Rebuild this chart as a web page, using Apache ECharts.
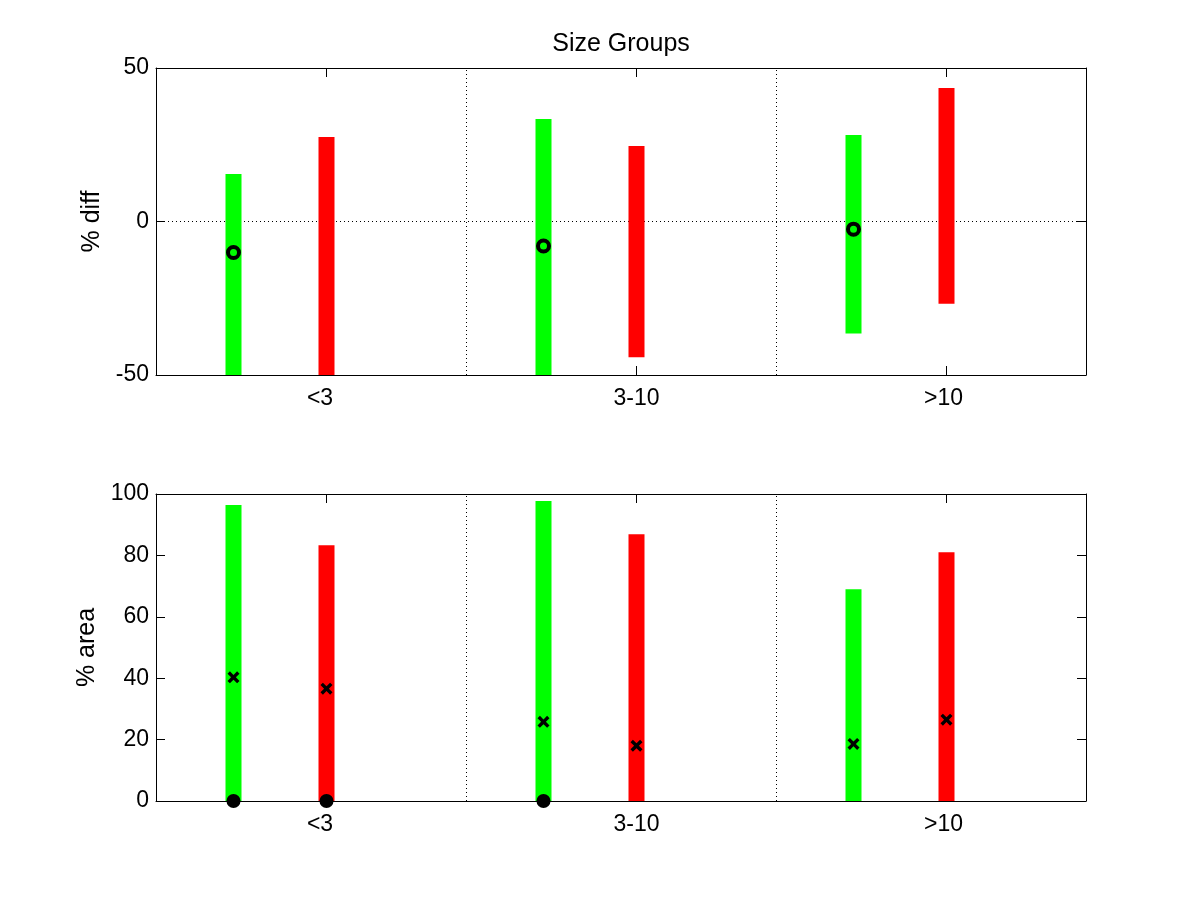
<!DOCTYPE html>
<html>
<head>
<meta charset="utf-8">
<script src="https://cdn.jsdelivr.net/npm/echarts@6/dist/echarts.min.js"></script>
<style>html,body{margin:0;padding:0;background:#fff;}#c{width:1200px;height:900px;}</style>
</head>
<body>
<div id="c"></div>
<script>
// ---- data ----
const categories = ['<3', '3-10', '>10'];
// top panel (% diff)
const diffGreenLow  = [-50, -50, -36.5];
const diffGreenHigh = [15.5, 33.4, 28.2];
const diffGreenMid  = [-10.1, -8.0, -2.5];
const diffRedLow    = [-50, -44.2, -26.8];
const diffRedHigh   = [27.5, 24.6, 43.5];
// bottom panel (% area)
const areaGreenLow  = [0, 0, 0];
const areaGreenHigh = [96.4, 97.7, 69.0];
const areaGreenMid  = [40.3, 25.8, 18.6];
const areaGreenDot  = [0, 0, null];
const areaRedLow    = [0, 0, 0];
const areaRedHigh   = [83.3, 86.9, 81.0];
const areaRedMid    = [36.6, 18.0, 26.5];
const areaRedDot    = [0, null, null];
const diffTicks = [-50, 0, 50];
const areaTicks = [0, 20, 40, 60, 80, 100];

// ---- layout helpers ----
const GREEN = '#00ff00', RED = '#ff0000';
const gOff = -0.25, rOff = 0.05, tickOff = 0.05;
const xPos = (i, off) => i + 1 + off;
const FONT = 'Liberation Sans, Arial, Helvetica, sans-serif';
const tickValues = categories.map((c, i) => xPos(i, tickOff));

function rangeData(lo, hi, off) {
  return lo.map((v, i) => [xPos(i, off), v, hi[i]]);
}
function pointData(vals, off) {
  return vals.map((v, i) => v == null ? null : [xPos(i, off), v]).filter(d => d);
}
function renderBar(params, api) {
  const x = api.value(0), lo = api.value(1), hi = api.value(2);
  const p1 = api.coord([x, hi]);
  const p2 = api.coord([x, lo]);
  const w = 16;
  return {
    type: 'rect',
    shape: { x: p1[0] - w / 2, y: p1[1], width: w, height: p2[1] - p1[1] },
    style: { fill: api.visual('color') }
  };
}
const xMark = 'path://M0,2 L2,0 L5,3 L8,0 L10,2 L7,5 L10,8 L8,10 L5,7 L2,10 L0,8 L3,5 Z';

const labelMap = {};
categories.forEach((c, i) => { labelMap[xPos(i, tickOff).toFixed(2)] = c; });

function xAxes(gridIndex) {
  const common = {
    type: 'value', gridIndex, min: 0.5, max: 3.5,
    axisLine: { show: true, onZero: false, lineStyle: { color: '#000', width: 1 } },
    splitLine: { show: false }
  };
  return [
    Object.assign({}, common, {
      position: 'bottom',
      axisTick: { show: true, inside: true, length: 9, customValues: tickValues, lineStyle: { color: '#000' } },
      axisLabel: {
        show: true, customValues: tickValues, margin: 12,
        color: '#000', fontSize: 23, fontFamily: FONT,
        formatter: v => {
          const t = labelMap[Number(v).toFixed(2)] || '';
          if (t === '<3') return '{l|' + t + '}';
          if (t === '>10') return '{m|' + t + '}';
          return t;
        },
        rich: {
          l: { fontSize: 23, fontFamily: FONT, color: '#000', padding: [0, 13, 0, 0] },
          m: { fontSize: 23, fontFamily: FONT, color: '#000', padding: [0, 6, 0, 0] }
        }
      }
    }),
    Object.assign({}, common, {
      position: 'top',
      axisTick: { show: true, inside: true, length: 9, customValues: tickValues, lineStyle: { color: '#000' } },
      axisLabel: { show: false }
    })
  ];
}
function yAxes(gridIndex, min, max, interval, name, nameGap, grid) {
  const common = {
    type: 'value', gridIndex, min, max, interval,
    axisLine: { show: true, onZero: false, lineStyle: { color: '#000', width: 1 } },
    axisTick: { show: true, inside: true, length: 9, lineStyle: { color: '#000' } }
  };
  return [
    Object.assign({}, common, {
      position: 'left',
      name, nameLocation: 'middle', nameGap,
      nameTextStyle: { color: '#000', fontSize: 25, fontFamily: FONT },
      axisLabel: { show: true, margin: 7, color: '#000', fontSize: 23, fontFamily: FONT },
      splitLine: { show: grid, lineStyle: { color: '#000', type: [1, 3], width: 1 } }
    }),
    Object.assign({}, common, {
      position: 'right',
      axisLabel: { show: false },
      splitLine: { show: false }
    })
  ];
}

const vLines = {
  silent: true, symbol: ['none', 'none'], label: { show: false },
  lineStyle: { color: '#000', type: [1, 3], width: 1 },
  data: [{ xAxis: 1.5 }, { xAxis: 2.5 }]
};

const option = {
  animation: false,
  backgroundColor: '#fff',
  title: {
    text: 'Size Groups', left: 616, top: 27, textAlign: 'center',
    textStyle: { color: '#000', fontSize: 25, fontWeight: 'normal', fontFamily: FONT }
  },
  grid: [
    { left: 156, top: 68, width: 930, height: 307 },
    { left: 156, top: 494, width: 930, height: 307 }
  ],
  xAxis: [...xAxes(0), ...xAxes(1)],
  yAxis: [
    ...yAxes(0, -50, 50, 50, '% diff', 48, true),
    ...yAxes(1, 0, 100, 20, '% area', 54, false)
  ],
  series: [
    // top panel
    { type: 'scatter', xAxisIndex: 0, yAxisIndex: 0, data: [], markLine: vLines },
    { type: 'custom', xAxisIndex: 0, yAxisIndex: 0, renderItem: renderBar, itemStyle: { color: GREEN },
      data: rangeData(diffGreenLow, diffGreenHigh, gOff), encode: { x: 0, y: [1, 2] }, z: 3 },
    { type: 'custom', xAxisIndex: 0, yAxisIndex: 0, renderItem: renderBar, itemStyle: { color: RED },
      data: rangeData(diffRedLow, diffRedHigh, rOff), encode: { x: 0, y: [1, 2] }, z: 3 },
    { type: 'scatter', xAxisIndex: 0, yAxisIndex: 0, symbol: 'circle', symbolSize: 11, clip: false, z: 5,
      itemStyle: { color: 'rgba(0,0,0,0)', borderColor: '#000', borderWidth: 4, opacity: 1 },
      data: pointData(diffGreenMid, gOff) },
    // bottom panel
    { type: 'scatter', xAxisIndex: 2, yAxisIndex: 2, data: [], markLine: vLines },
    { type: 'custom', xAxisIndex: 2, yAxisIndex: 2, renderItem: renderBar, itemStyle: { color: GREEN },
      data: rangeData(areaGreenLow, areaGreenHigh, gOff), encode: { x: 0, y: [1, 2] }, z: 3 },
    { type: 'custom', xAxisIndex: 2, yAxisIndex: 2, renderItem: renderBar, itemStyle: { color: RED },
      data: rangeData(areaRedLow, areaRedHigh, rOff), encode: { x: 0, y: [1, 2] }, z: 3 },
    { type: 'scatter', xAxisIndex: 2, yAxisIndex: 2, symbol: xMark, symbolSize: 12, clip: false, z: 5,
      itemStyle: { color: '#000', opacity: 1 },
      data: pointData(areaGreenMid, gOff).concat(pointData(areaRedMid, rOff)) },
    { type: 'scatter', xAxisIndex: 2, yAxisIndex: 2, symbol: 'circle', symbolSize: 14, clip: false, z: 6,
      itemStyle: { color: '#000', opacity: 1 },
      data: pointData(areaGreenDot, gOff).concat(pointData(areaRedDot, rOff)) }
  ]
};
const chart = echarts.init(document.getElementById('c'), null, { renderer: 'canvas' });
chart.setOption(option);
</script>
</body>
</html>
